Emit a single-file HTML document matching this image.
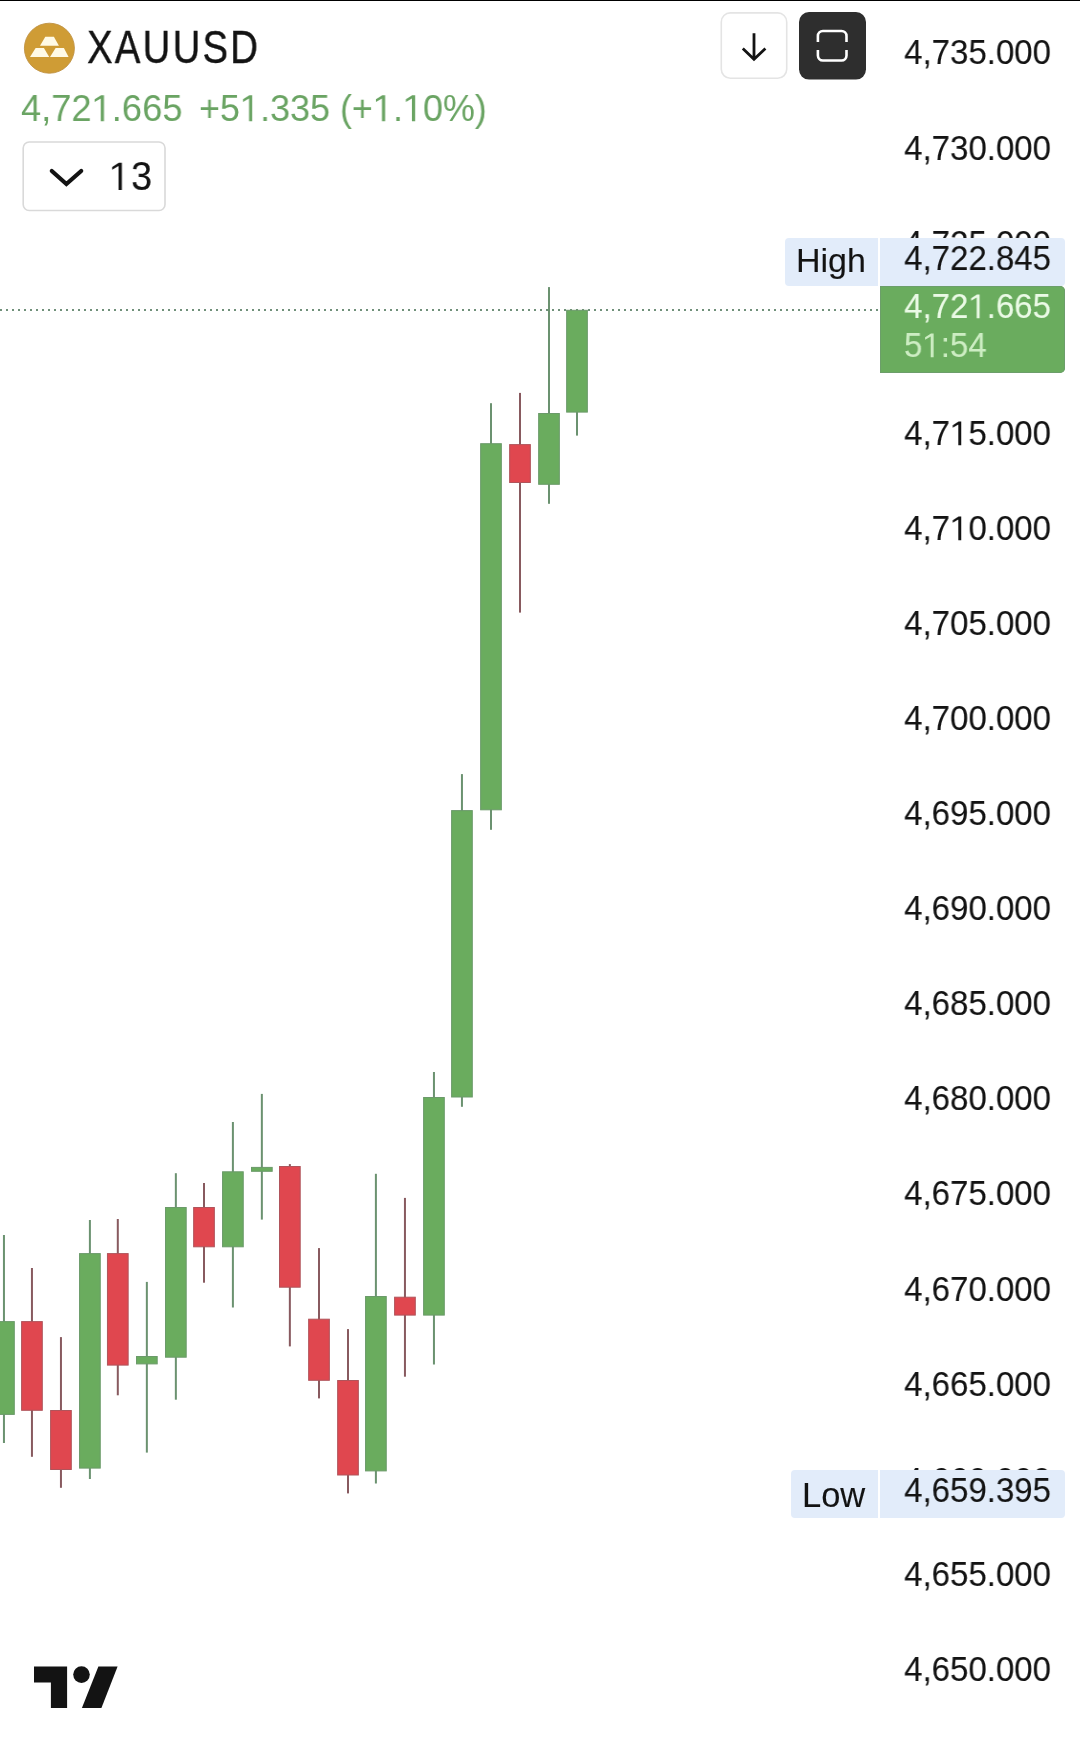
<!DOCTYPE html>
<html><head><meta charset="utf-8">
<style>
html,body{margin:0;padding:0;background:#fff;}
body{width:1080px;height:1739px;overflow:hidden;position:relative;font-family:"Liberation Sans",sans-serif;}
.abs{position:absolute;}
.t{position:absolute;white-space:nowrap;-webkit-text-stroke:0.1px currentColor;will-change:transform;}
.o{position:relative;color:transparent;-webkit-text-stroke:0 transparent;}
.o::before{content:'';position:absolute;left:0;top:0;width:0.6em;height:1.2em;background:var(--c);clip-path:polygon(0.2515em 0.9053em,0.3398em 0.9053em,0.3398em 0.2173em,0.2588em 0.2173em,0.083em 0.3242em,0.083em 0.3975em,0.2515em 0.3013em);}
.box{position:absolute;}
#topline{position:absolute;left:0;top:0;width:1080px;height:1px;background:#000;}
</style></head><body>
<svg class="abs" style="left:0;top:0" width="1080" height="1739" viewBox="0 0 1080 1739">
<line x1="0" y1="310" x2="880" y2="310" stroke="#70907a" stroke-width="2" stroke-dasharray="2 4"/>
<rect x="2.95" y="1235.00" width="2" height="208.00" fill="#6b9270"/>
<rect x="-6.40" y="1321.60" width="20.70" height="92.80" fill="#6aac5e" stroke="#6b9a6a" stroke-width="1"/>
<rect x="30.95" y="1268.00" width="2" height="188.80" fill="#885a5f"/>
<rect x="21.60" y="1321.60" width="20.70" height="88.70" fill="#e0474f" stroke="#b0545b" stroke-width="1"/>
<rect x="59.95" y="1337.10" width="2" height="150.70" fill="#885a5f"/>
<rect x="50.60" y="1410.50" width="20.70" height="59.00" fill="#e0474f" stroke="#b0545b" stroke-width="1"/>
<rect x="88.90" y="1220.00" width="2" height="259.00" fill="#6b9270"/>
<rect x="79.55" y="1253.60" width="20.70" height="214.50" fill="#6aac5e" stroke="#6b9a6a" stroke-width="1"/>
<rect x="116.80" y="1219.00" width="2" height="176.30" fill="#885a5f"/>
<rect x="107.45" y="1253.60" width="20.70" height="111.50" fill="#e0474f" stroke="#b0545b" stroke-width="1"/>
<rect x="145.85" y="1281.90" width="2" height="170.70" fill="#6b9270"/>
<rect x="136.50" y="1356.50" width="20.70" height="7.40" fill="#6aac5e" stroke="#6b9a6a" stroke-width="1"/>
<rect x="174.85" y="1173.20" width="2" height="226.50" fill="#6b9270"/>
<rect x="165.50" y="1207.50" width="20.70" height="149.70" fill="#6aac5e" stroke="#6b9a6a" stroke-width="1"/>
<rect x="203.00" y="1183.00" width="2" height="99.70" fill="#885a5f"/>
<rect x="193.65" y="1207.50" width="20.70" height="39.30" fill="#e0474f" stroke="#b0545b" stroke-width="1"/>
<rect x="231.90" y="1122.00" width="2" height="185.50" fill="#6b9270"/>
<rect x="222.55" y="1171.80" width="20.70" height="75.00" fill="#6aac5e" stroke="#6b9a6a" stroke-width="1"/>
<rect x="260.85" y="1093.90" width="2" height="125.70" fill="#6b9270"/>
<rect x="251.50" y="1167.40" width="20.70" height="3.90" fill="#6aac5e" stroke="#6b9a6a" stroke-width="1"/>
<rect x="288.85" y="1164.10" width="2" height="182.30" fill="#885a5f"/>
<rect x="279.50" y="1166.50" width="20.70" height="120.70" fill="#e0474f" stroke="#b0545b" stroke-width="1"/>
<rect x="318.00" y="1248.10" width="2" height="150.30" fill="#885a5f"/>
<rect x="308.65" y="1319.20" width="20.70" height="61.10" fill="#e0474f" stroke="#b0545b" stroke-width="1"/>
<rect x="347.00" y="1329.10" width="2" height="164.30" fill="#885a5f"/>
<rect x="337.65" y="1380.50" width="20.70" height="94.50" fill="#e0474f" stroke="#b0545b" stroke-width="1"/>
<rect x="374.90" y="1173.80" width="2" height="309.70" fill="#6b9270"/>
<rect x="365.55" y="1296.50" width="20.70" height="174.40" fill="#6aac5e" stroke="#6b9a6a" stroke-width="1"/>
<rect x="403.95" y="1197.90" width="2" height="178.80" fill="#885a5f"/>
<rect x="394.60" y="1297.20" width="20.70" height="17.90" fill="#e0474f" stroke="#b0545b" stroke-width="1"/>
<rect x="432.95" y="1072.00" width="2" height="292.50" fill="#6b9270"/>
<rect x="423.60" y="1097.50" width="20.70" height="217.60" fill="#6aac5e" stroke="#6b9a6a" stroke-width="1"/>
<rect x="460.95" y="774.10" width="2" height="332.70" fill="#6b9270"/>
<rect x="451.60" y="810.60" width="20.70" height="286.40" fill="#6aac5e" stroke="#6b9a6a" stroke-width="1"/>
<rect x="490.00" y="403.20" width="2" height="426.60" fill="#6b9270"/>
<rect x="480.65" y="443.70" width="20.70" height="366.10" fill="#6aac5e" stroke="#6b9a6a" stroke-width="1"/>
<rect x="519.00" y="392.90" width="2" height="219.70" fill="#885a5f"/>
<rect x="509.65" y="444.60" width="20.70" height="37.90" fill="#e0474f" stroke="#b0545b" stroke-width="1"/>
<rect x="548.00" y="287.10" width="2" height="216.70" fill="#6b9270"/>
<rect x="538.65" y="413.50" width="20.70" height="70.80" fill="#6aac5e" stroke="#6b9a6a" stroke-width="1"/>
<rect x="576.00" y="309.80" width="2" height="125.80" fill="#6b9270"/>
<rect x="566.65" y="310.30" width="20.70" height="101.80" fill="#6aac5e" stroke="#6b9a6a" stroke-width="1"/>
</svg>
<div class="t" style="left:450.5px;width:600px;text-align:right;top:34.9px;font-size:34.5px;line-height:34.5px;color:#131313;--c:#131313;transform:scaleX(0.957);transform-origin:right center;">4,735.000</div>
<div class="t" style="left:450.5px;width:600px;text-align:right;top:130.5px;font-size:34.5px;line-height:34.5px;color:#131313;--c:#131313;transform:scaleX(0.957);transform-origin:right center;">4,730.000</div>
<div class="t" style="left:450.5px;width:600px;text-align:right;top:226.1px;font-size:34.5px;line-height:34.5px;color:#131313;--c:#131313;transform:scaleX(0.957);transform-origin:right center;">4,725.000</div>
<div class="t" style="left:450.5px;width:600px;text-align:right;top:320.8px;font-size:34.5px;line-height:34.5px;color:#131313;--c:#131313;transform:scaleX(0.957);transform-origin:right center;">4,720.000</div>
<div class="t" style="left:450.5px;width:600px;text-align:right;top:415.6px;font-size:34.5px;line-height:34.5px;color:#131313;--c:#131313;transform:scaleX(0.957);transform-origin:right center;">4,7<span class="o">1</span>5.000</div>
<div class="t" style="left:450.5px;width:600px;text-align:right;top:510.8px;font-size:34.5px;line-height:34.5px;color:#131313;--c:#131313;transform:scaleX(0.957);transform-origin:right center;">4,7<span class="o">1</span>0.000</div>
<div class="t" style="left:450.5px;width:600px;text-align:right;top:606.0px;font-size:34.5px;line-height:34.5px;color:#131313;--c:#131313;transform:scaleX(0.957);transform-origin:right center;">4,705.000</div>
<div class="t" style="left:450.5px;width:600px;text-align:right;top:701.1px;font-size:34.5px;line-height:34.5px;color:#131313;--c:#131313;transform:scaleX(0.957);transform-origin:right center;">4,700.000</div>
<div class="t" style="left:450.5px;width:600px;text-align:right;top:796.1px;font-size:34.5px;line-height:34.5px;color:#131313;--c:#131313;transform:scaleX(0.957);transform-origin:right center;">4,695.000</div>
<div class="t" style="left:450.5px;width:600px;text-align:right;top:891.3px;font-size:34.5px;line-height:34.5px;color:#131313;--c:#131313;transform:scaleX(0.957);transform-origin:right center;">4,690.000</div>
<div class="t" style="left:450.5px;width:600px;text-align:right;top:985.6px;font-size:34.5px;line-height:34.5px;color:#131313;--c:#131313;transform:scaleX(0.957);transform-origin:right center;">4,685.000</div>
<div class="t" style="left:450.5px;width:600px;text-align:right;top:1080.8px;font-size:34.5px;line-height:34.5px;color:#131313;--c:#131313;transform:scaleX(0.957);transform-origin:right center;">4,680.000</div>
<div class="t" style="left:450.5px;width:600px;text-align:right;top:1176.1px;font-size:34.5px;line-height:34.5px;color:#131313;--c:#131313;transform:scaleX(0.957);transform-origin:right center;">4,675.000</div>
<div class="t" style="left:450.5px;width:600px;text-align:right;top:1271.8px;font-size:34.5px;line-height:34.5px;color:#131313;--c:#131313;transform:scaleX(0.957);transform-origin:right center;">4,670.000</div>
<div class="t" style="left:450.5px;width:600px;text-align:right;top:1367.0px;font-size:34.5px;line-height:34.5px;color:#131313;--c:#131313;transform:scaleX(0.957);transform-origin:right center;">4,665.000</div>
<div class="t" style="left:450.5px;width:600px;text-align:right;top:1462.7px;font-size:34.5px;line-height:34.5px;color:#131313;--c:#131313;transform:scaleX(0.957);transform-origin:right center;">4,660.000</div>
<div class="t" style="left:450.5px;width:600px;text-align:right;top:1556.8px;font-size:34.5px;line-height:34.5px;color:#131313;--c:#131313;transform:scaleX(0.957);transform-origin:right center;">4,655.000</div>
<div class="t" style="left:450.5px;width:600px;text-align:right;top:1652.1px;font-size:34.5px;line-height:34.5px;color:#131313;--c:#131313;transform:scaleX(0.957);transform-origin:right center;">4,650.000</div>
<div class="box" style="left:785px;top:238.1px;width:92.8px;height:47.7px;background:#e2ecfa;border-radius:4px 0 0 4px;"></div>
<div class="box" style="left:880.2px;top:238.1px;width:184.4px;height:47.7px;background:#e2ecfa;border-radius:0 4px 4px 0;"></div>
<div class="t" style="left:796.3px;top:242.6px;font-size:34px;line-height:34px;color:#131313;--c:#131313;">High</div>
<div class="t" style="left:450.5px;width:600px;text-align:right;top:240.7px;font-size:34.5px;line-height:34.5px;color:#131313;--c:#131313;transform:scaleX(0.957);transform-origin:right center;">4,722.845</div>
<div class="box" style="left:880.2px;top:286px;width:184.6px;height:86.8px;background:#6aac5e;border-radius:0 5px 5px 0;box-shadow:inset 0 0 0 1px #6c9e6a;"></div>
<div class="t" style="left:450.5px;width:600px;text-align:right;top:288.8px;font-size:34.5px;line-height:34.5px;color:#ebfae6;--c:#ebfae6;transform:scaleX(0.957);transform-origin:right center;">4,72<span class="o">1</span>.665</div>
<div class="t" style="left:904.0px;top:328.4px;font-size:34.5px;line-height:34.5px;color:#cdedc3;--c:#cdedc3;transform:scaleX(0.957);transform-origin:left center;">5<span class="o">1</span>:54</div>
<div class="box" style="left:791.2px;top:1470px;width:86.4px;height:47.6px;background:#e2ecfa;border-radius:4px 0 0 4px;"></div>
<div class="box" style="left:880.2px;top:1470px;width:184.6px;height:47.6px;background:#e2ecfa;border-radius:0 4px 4px 0;"></div>
<div class="t" style="left:801.6px;top:1477.8px;font-size:34.5px;line-height:34.5px;color:#131313;--c:#131313;">Low</div>
<div class="t" style="left:450.5px;width:600px;text-align:right;top:1472.5px;font-size:34.5px;line-height:34.5px;color:#131313;--c:#131313;transform:scaleX(0.957);transform-origin:right center;">4,659.395</div>

<svg class="abs" style="left:0;top:0" width="1080" height="240" viewBox="0 0 1080 240">
 <circle cx="49.4" cy="48.2" r="25" fill="#cf9c35" stroke="#c09243" stroke-width="0.9"/>
 <polygon points="45.3,36.7 53.9,36.7 58.9,45.8 40,45.8" fill="#fffae6"/>
 <polygon points="35.6,48.1 43.9,48.1 49.2,56.9 30,56.9" fill="#fffae6"/>
 <polygon points="55.6,48.1 63.9,48.1 68.6,56.9 50,56.9" fill="#fffae6"/>
 <rect x="721.3" y="12.9" width="65.4" height="65.4" rx="9" fill="#fff" stroke="#e4e4e4" stroke-width="1.6"/>
 <path d="M754 33.3 V59 M742.8 48.6 L754 59.3 L765.4 48.6" fill="none" stroke="#131313" stroke-width="2.8"/>
 <rect x="799" y="12.1" width="67" height="67.5" rx="10" fill="#2e2e2e"/>
 <path d="M817.9 42 V36 a5 5 0 0 1 5 -5 H841.5 a5 5 0 0 1 5 5 V42 M817.9 49.9 V55.5 a5 5 0 0 0 5 5 H841.5 a5 5 0 0 0 5 -5 V49.9" fill="none" stroke="#fff" stroke-width="2.6"/>
 <rect x="23.2" y="142" width="141.8" height="68.5" rx="6" fill="#fff" stroke="#d9d9d9" stroke-width="1.6"/>
 <path d="M51.8 171 L66.4 184 L81.2 171" fill="none" stroke="#131313" stroke-width="4.2" stroke-linecap="round" stroke-linejoin="miter"/>
</svg>
<svg class="abs" style="left:0;top:1640px" width="140" height="90" viewBox="0 1640 140 90">
 <path d="M34 1666.6 H67.1 V1708.1 H50.9 V1682.6 H34 Z" fill="#131313"/>
 <circle cx="81.5" cy="1674.6" r="8.3" fill="#131313"/>
 <path d="M98.4 1666.6 H117.6 L101.4 1708.1 H81.9 Z" fill="#131313"/>
</svg>

<div class="t" style="left:86.5px;top:23.7px;font-size:46px;line-height:46px;color:#131313;--c:#131313;transform:scaleX(0.835);transform-origin:left center;letter-spacing:2.6px;-webkit-text-stroke:0.4px currentColor;">XAUUSD</div>
<div class="t" style="left:20.8px;top:90.2px;font-size:37.8px;line-height:37.8px;color:#6aa463;--c:#6aa463;transform:scaleX(0.96);transform-origin:left center;-webkit-text-stroke:0;">4,72<span class="o">1</span>.665</div>
<div class="t" style="left:198.6px;top:90.2px;font-size:37.8px;line-height:37.8px;color:#6aa463;--c:#6aa463;transform:scaleX(0.951);transform-origin:left center;-webkit-text-stroke:0;">+5<span class="o">1</span>.335 (+<span class="o">1</span>.<span class="o">1</span>0%)</div>
<div class="t" style="left:109.1px;top:157.1px;font-size:39.8px;line-height:39.8px;color:#131313;--c:#131313;transform:scaleX(0.95);transform-origin:left center;letter-spacing:1px;"><span class="o">1</span>3</div>
<div id="topline"></div>
</body></html>
